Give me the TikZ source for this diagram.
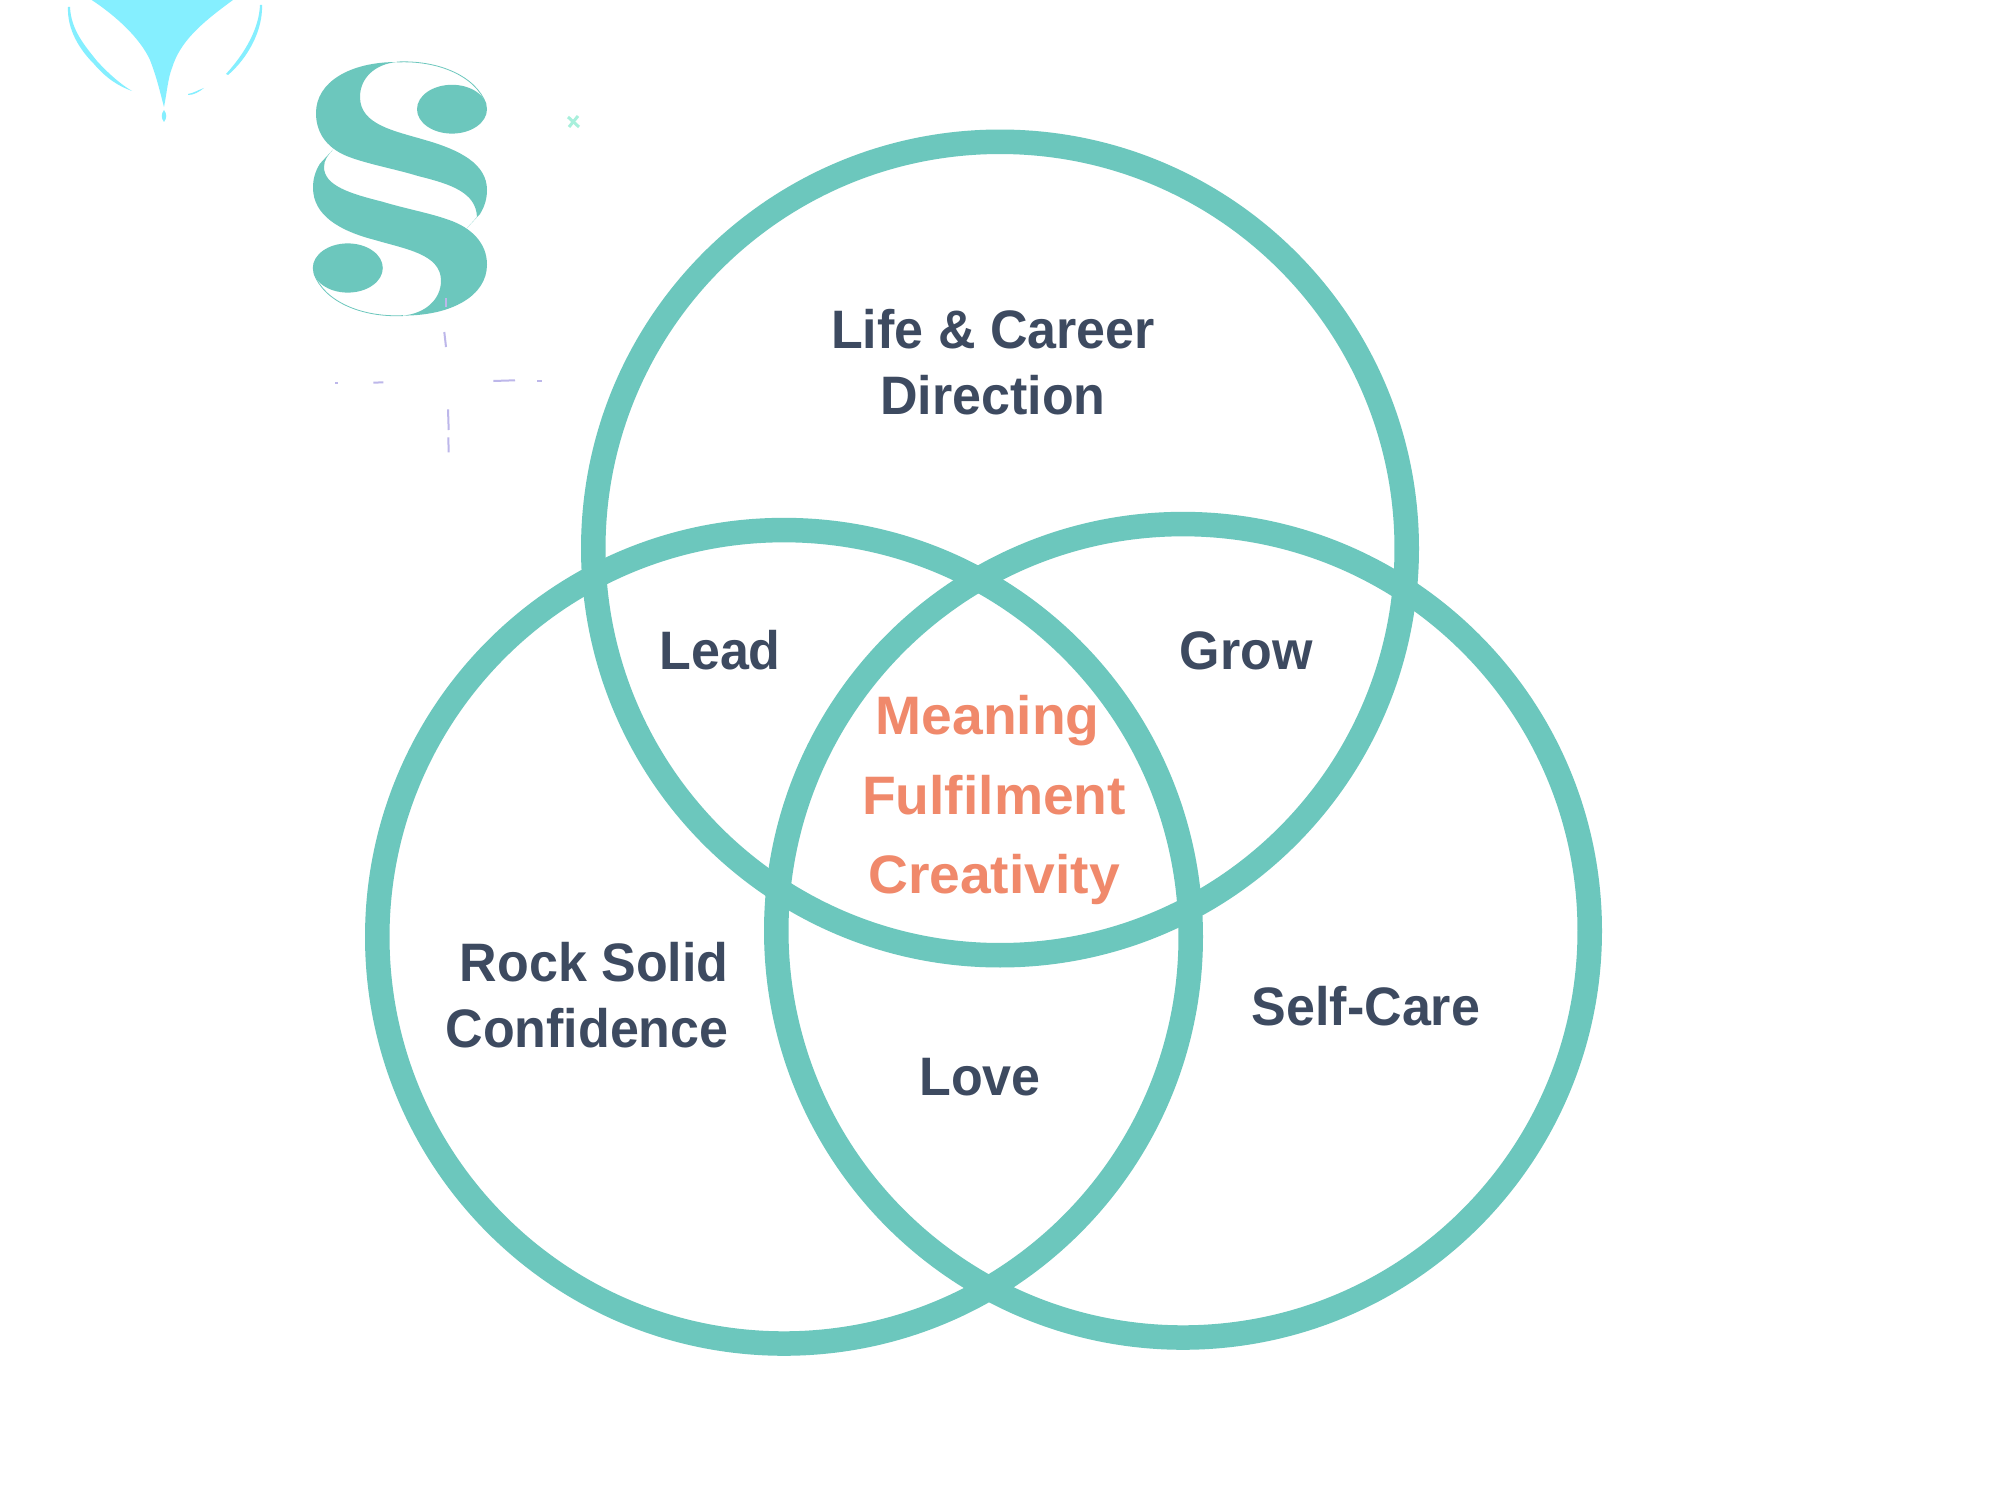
\documentclass[tikz,border=0pt]{standalone}
\usepackage{fontspec}
\setmainfont[FakeStretch=0.96]{Liberation Sans}
\newfontfamily\corefont[FakeStretch=1.02]{Liberation Sans}
\definecolor{ringteal}{HTML}{6CC7BD}
\definecolor{slate}{HTML}{3D4A60}
\definecolor{coral}{HTML}{F0896B}
\definecolor{skycyan}{HTML}{85EFFF}
\definecolor{lilac}{HTML}{BDB7EA}
\definecolor{mint}{HTML}{A8F0DC}
\tikzset{
  ring/.style={shape=circle, draw=ringteal, line width=0.245cm, minimum size=8.13cm, inner sep=0pt},
  lbl/.style={text=slate, inner sep=0pt, font=\fontsize{15.4}{18.7}\selectfont\bfseries},
  core/.style={text=coral, inner sep=0pt, align=center, font=\corefont\fontsize{15.4}{22.5}\selectfont\bfseries},
  dashmark/.style={draw=lilac, line width=0.02cm},
}
\begin{document}
\begin{tikzpicture}[x=0.01cm, y=-0.01cm]
\useasboundingbox (0,0) rectangle (2000,1500);
\fill[white] (0,0) rectangle (2000,1500);
% cyan mark, top left
\fill[skycyan] (91.7,0) .. controls (116,16) and (140,38) .. (150,60) .. controls (157,78) and (160,92) .. (164,107) .. controls (167,92) and (168,78) .. (172,68) .. controls (180,42) and (200,24) .. (233,0) -- cycle;
\fill[skycyan] (164,110) .. controls (161,114) and (161,118) .. (164,122) .. controls (167,118) and (167,114) .. (164,110) -- cycle;
\fill[skycyan] (68,7) .. controls (67,30) and (80,50) .. (94,64) .. controls (106,78) and (118,86) .. (132,91) .. controls (120,84) and (107,72) .. (97,61) .. controls (85,46) and (71,30) .. (70,7) -- cycle;
\fill[skycyan] (260,5) .. controls (259,28) and (246,52) .. (226,74) -- (228,75) .. controls (248,58) and (263,30) .. (262,5) -- cycle;
\fill[skycyan] (188,95) .. controls (194,95) and (199,92) .. (204,88) .. controls (198,90) and (194,93) .. (188,94) -- cycle;
% section sign
\fill[ringteal] (397,62) .. controls (350,62) and (316,82) .. (316,113) .. controls (316,134) and (328,150) .. (352,158) .. controls (372,165) and (395,169) .. (418,176) .. controls (450,184) and (476,192) .. (477,217) -- (467,228) -- (480,214) .. controls (485,206) and (487,198) .. (487,190) .. controls (487,164) and (460,150) .. (425,140) .. controls (395,131) and (360,125) .. (360,97) .. controls (360,78) and (375,64) .. (397,62) -- cycle;
\fill[ringteal] (403,315.6) .. controls (452,315.6) and (487,295.6) .. (487,264.6) .. controls (487,243.6) and (472,227.6) .. (448,219.6) .. controls (428,212.6) and (405,208.6) .. (382,201.6) .. controls (350,193.6) and (324,185.6) .. (324,167) .. controls (324,160) and (328,155) .. (333,149.6) -- (320,163.6) .. controls (315,171.6) and (313,179.6) .. (313,187.6) .. controls (313,215.6) and (340,231) .. (375,240) .. controls (405,249) and (441,254) .. (441,280.6) .. controls (441,299.6) and (425,313.6) .. (403,315.6) -- cycle;
\fill[ringteal] (452,109.2) ellipse [x radius=35, y radius=24.4];
\fill[ringteal] (347.8,268) ellipse [x radius=35, y radius=24.6];
\draw[ringteal, line width=0.008cm] (397,62) .. controls (438,60) and (476,76) .. (486,104);
\draw[ringteal, line width=0.008cm] (403,315.6) .. controls (362,317.6) and (324,301.6) .. (314,273.6);
% lilac and mint specks
\draw[dashmark] (445.5,298) -- (445.5,307);
\draw[dashmark] (444.3,332) -- (446,347);
\draw[dashmark] (335,383.3) -- (338,383.3);
\draw[dashmark] (373.3,382.7) -- (383.3,382.3);
\draw[dashmark] (493.3,381) -- (515,380.3);
\draw[dashmark] (537.3,380.7) -- (541.7,380.7);
\draw[dashmark] (448,409.3) -- (448.7,430);
\draw[dashmark] (448.3,437.3) -- (448.7,452.3);
\draw[mint, line width=0.03cm] (568,117) -- (579,127);
\draw[mint, line width=0.03cm] (578,116) -- (569,127);
% venn rings
\node[ring] (top) at (1000,548.5) {};
\node[ring] (left) at (784,936.8) {};
\node[ring] (right) at (1183,930.8) {};
% labels
\node[lbl, align=center] (career) at (993,362) {Life \& Career\\Direction};
\node[lbl, anchor=base] (lead) at (720,669) {Lead};
\node[lbl, anchor=base] (grow) at (1246,669) {Grow};
\node[core] (meaning) at (994,800) {Meaning\rule{0.128cm}{0pt}\\Fulfilment\\Creativity};
\node[lbl, align=right] (rock) at (587,995.5) {Rock Solid\\Confidence};
\node[lbl, anchor=base] (love) at (980,1095) {Love};
\node[lbl, anchor=base] (selfcare) at (1366,1025) {Self-Care};
\end{tikzpicture}
\end{document}
